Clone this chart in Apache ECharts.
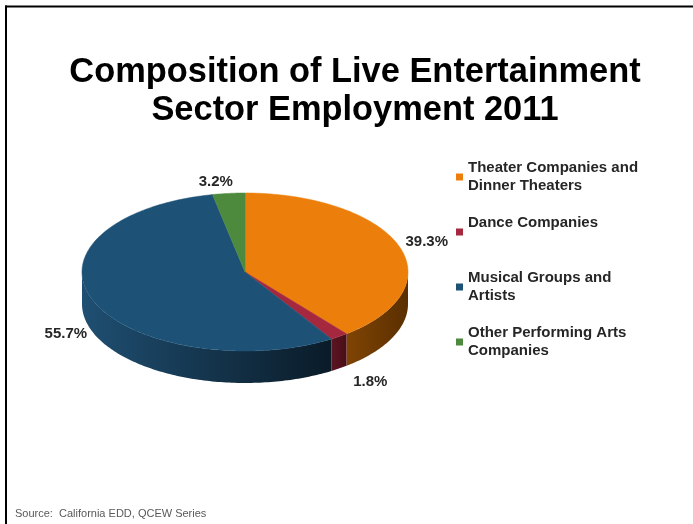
<!DOCTYPE html>
<html>
<head>
<meta charset="utf-8">
<script src="https://cdn.jsdelivr.net/npm/echarts@6/dist/echarts.min.js"></script>
<style>
html,body{margin:0;padding:0;background:#fff;}
#chart{width:693px;height:524px;}
</style>
</head>
<body>
<div id="chart"></div>
<script>
// ---- data ----
const categories = ['Theater Companies and\nDinner Theaters', 'Dance Companies', 'Musical Groups and\nArtists', 'Other Performing Arts\nCompanies'];
const values = [39.3, 1.8, 55.7, 3.2];
const valueLabels = ['39.3%', '1.8%', '55.7%', '3.2%'];
const titleText = 'Composition of Live Entertainment\nSector Employment 2011';
const sourceText = 'Source:  California EDD, QCEW Series';

// ---- styles / layout ----
const topColors = ['#EC7F0C', '#A6283F', '#1D5276', '#4D8A3E'];
const sideColors = [
  ['#804404', '#5A2F00'],
  ['#5C1522', '#480E18'],
  ['#1F4F72', '#0A1B28'],
  ['#2E5A25', '#22451B']
];
const PIE = { cx: 245, cy: 272, rx: 163, ry: 79, depth: 32 };

const total = values.reduce((a, b) => a + b, 0);

function pt(deg, dy) {
  const r = deg * Math.PI / 180;
  return [PIE.cx + PIE.rx * Math.sin(r), PIE.cy - PIE.ry * Math.cos(r) + (dy || 0)];
}
function arc(a, b, dy) {
  const pts = [];
  const n = Math.max(2, Math.ceil(Math.abs(b - a)));
  for (let k = 0; k <= n; k++) pts.push(pt(a + (b - a) * k / n, dy));
  return pts;
}

function renderItem(params, api) {
  const i = params.seriesIndex;
  const v = api.value(0);
  let before = 0;
  for (let k = 0; k < i; k++) before += values[k];
  const a1 = before / total * 360;
  const a2 = (before + v) / total * 360;
  const children = [];
  // side wall (front half only)
  const s = Math.max(a1, 90), e = Math.min(a2, 270);
  if (s < e) {
    const top = arc(s, e, 0);
    const bottom = arc(e, s, PIE.depth);
    children.push({
      type: 'polygon',
      shape: { points: top.concat(bottom) },
      style: {
        fill: new echarts.graphic.LinearGradient(0, 0, 1, 0, [
          { offset: 0, color: sideColors[i][0] },
          { offset: 1, color: sideColors[i][1] }
        ]),
        stroke: null
      }
    });
  }
  // top face
  children.push({
    type: 'polygon',
    shape: { points: [[PIE.cx, PIE.cy]].concat(arc(a1, a2, 0)) },
    style: { fill: topColors[i], stroke: topColors[i], lineWidth: 0.5 }
  });
  // label
  const m = (a1 + a2) / 2;
  const r = m * Math.PI / 180;
  const sn = Math.sin(r), cs = Math.cos(r);
  const frontRight = cs < 0 && sn > 0;
  const lx = PIE.cx + (PIE.rx + 7) * sn + (frontRight ? 10 : 0) + (Math.abs(sn) < 0.3 ? 5 : 0);
  const ly = PIE.cy - (PIE.ry + 12) * cs + (cs < 0 ? PIE.depth - 4 : 0) + (frontRight ? 8 : 0);
  children.push({
    type: 'text',
    z2: 10,
    style: {
      text: valueLabels[i],
      x: lx, y: ly,
      align: sn >= 0 ? 'left' : 'right',
      verticalAlign: 'middle',
      font: 'bold 15px "Liberation Sans", Arial, sans-serif',
      fill: '#262626'
    }
  });
  return { type: 'group', children: children };
}

const series = categories.map((name, i) => ({
  type: 'custom',
  name: name,
  coordinateSystem: 'none',
  renderItem: renderItem,
  itemStyle: { color: topColors[i] },
  data: [[values[i]]],
  animation: false
}));

const chart = echarts.init(document.getElementById('chart'), null, { renderer: 'canvas' });
chart.setOption({
  backgroundColor: '#fff',
  animation: false,
  color: topColors,
  legend: {
    orient: 'vertical',
    left: 456,
    top: 150,
    padding: 0,
    itemGap: 1,
    itemWidth: 7,
    itemHeight: 7,
    icon: 'rect',
    selectedMode: false,
    data: categories,
    formatter: function (name) {
      return name.indexOf('\n') >= 0 ? name : name + '\n ';
    },
    textStyle: {
      fontFamily: '"Liberation Sans", Arial, sans-serif',
      fontWeight: 'bold',
      fontSize: 15,
      lineHeight: 18,
      color: '#262626',
      padding: [18, 0, 0, 0]
    }
  },
  graphic: [
    { type: 'line', shape: { x1: 5, y1: 6.5, x2: 693, y2: 6.5 }, style: { stroke: '#000', lineWidth: 2 } },
    { type: 'line', shape: { x1: 6, y1: 5.5, x2: 6, y2: 524 }, style: { stroke: '#000', lineWidth: 2 } },
    {
      type: 'text', x: 355, y: 54,
      style: {
        text: titleText,
        font: 'bold 34.4px "Liberation Sans", Arial, sans-serif',
        textAlign: 'center', align: 'center',
        textVerticalAlign: 'top', verticalAlign: 'top',
        lineHeight: 38,
        fill: '#000'
      }
    },
    {
      type: 'text', x: 15, y: 514,
      style: {
        text: sourceText,
        font: '11px "Liberation Sans", Arial, sans-serif',
        textAlign: 'left', align: 'left',
        textVerticalAlign: 'middle', verticalAlign: 'middle',
        fill: '#595959'
      }
    }
  ],
  series: series
});
</script>
</body>
</html>
